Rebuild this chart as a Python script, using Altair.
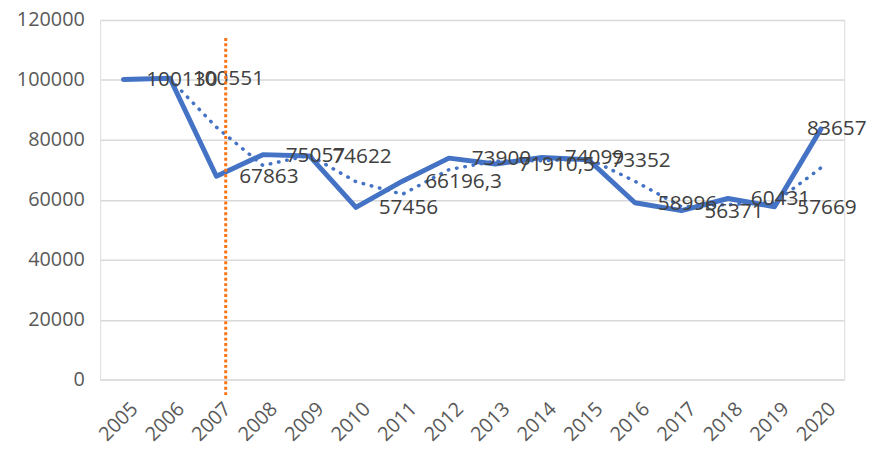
import altair as alt
import pandas as pd

years = list(range(2005, 2021))
values = [100130, 100551, 67863, 75057, 74622, 57456, 66196.3, 73900,
          71910.5, 74099, 73352, 58996, 56371, 60431, 57669, 83657]
value_labels = ["100130", "100551", "67863", "75057", "74622", "57456", "66196,3", "73900",
                "71910,5", "74099", "73352", "58996", "56371", "60431", "57669", "83657"]

# two-period moving average (dotted trend line)
ma_years = list(range(2006, 2021))
ma_values = [100340, 84210, 71460, 74840, 66040, 61830, 70050, 72905,
             73005, 73725, 66175, 57685, 58400, 59050, 70665]

marker_year = [2007.2]
marker_top = [114000]
marker_bottom = [-6000]

y_ticks = [0, 20000, 40000, 60000, 80000, 100000, 120000]

df = pd.DataFrame({"year": years, "value": values, "label": value_labels})
df_ma = pd.DataFrame({"year": ma_years, "ma": ma_values})
df_marker = pd.DataFrame({"year": marker_year, "top": marker_top, "bottom": marker_bottom})

FONT = "Open Sans"
BLUE = "#4472C4"

x_scale = alt.Scale(domain=[2004.5, 2020.5], nice=False, zero=False)
y_scale = alt.Scale(domain=[0, 120000], nice=False)

x_enc = alt.X("year:Q", scale=x_scale, title=None,
              axis=alt.Axis(values=years, format="d", labelAngle=-45, grid=False,
                            domain=False, ticks=False, labelFont=FONT, labelFontSize=20,
                            labelColor="#595959", labelPadding=19, labelOffset=4,
                            labelOverlap=False))
y_axis = alt.Axis(values=y_ticks, format="d", grid=True, gridColor="#D9D9D9", gridWidth=1.5,
                  domain=False, ticks=False, labelFont=FONT, labelFontSize=20,
                  labelColor="#595959", labelPadding=16)

ma_line = alt.Chart(df_ma).mark_line(
    color=BLUE, strokeWidth=3.5, strokeDash=[0.5, 8], strokeCap="round"
).encode(
    x=x_enc,
    y=alt.Y("ma:Q", scale=y_scale, title=None, axis=y_axis),
)

main_line = alt.Chart(df).mark_line(
    color=BLUE, strokeWidth=5, strokeJoin="round", strokeCap="round"
).encode(
    x=alt.X("year:Q", scale=x_scale),
    y=alt.Y("value:Q", scale=y_scale),
)

labels_main = alt.Chart(df).transform_filter(alt.datum.year < 2020).mark_text(
    align="left", baseline="middle", dx=23, dy=1, font=FONT, fontSize=21, color="#404040"
).encode(
    x=alt.X("year:Q", scale=x_scale),
    y=alt.Y("value:Q", scale=y_scale),
    text="label:N",
)

labels_last = alt.Chart(df).transform_filter(alt.datum.year == 2020).mark_text(
    align="left", baseline="middle", dx=-14, dy=0, font=FONT, fontSize=21, color="#404040"
).encode(
    x=alt.X("year:Q", scale=x_scale),
    y=alt.Y("value:Q", scale=y_scale),
    text="label:N",
)

marker = alt.Chart(df_marker).mark_rule(
    color="#FA7314", strokeWidth=3, strokeDash=[3, 2.5], clip=False
).encode(
    x=alt.X("year:Q", scale=x_scale),
    y=alt.Y("top:Q", scale=y_scale),
    y2="bottom:Q",
)

chart = alt.layer(ma_line, main_line, labels_main, labels_last, marker).properties(
    width=751, height=363,
    autosize=alt.AutoSizeParams(type="none"),
    padding={"left": 93, "top": 10, "right": 27, "bottom": 69},
).configure_view(stroke=None).configure(background="white")

chart.save("out.html", embed_options={"renderer": "svg", "actions": False})
